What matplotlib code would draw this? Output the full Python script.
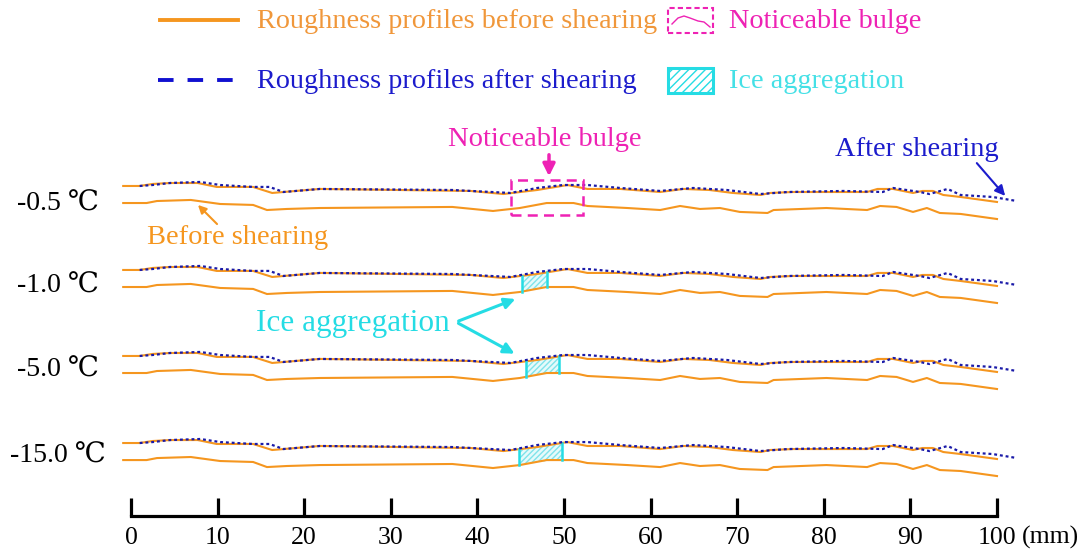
import matplotlib
matplotlib.use("Agg")
import matplotlib.pyplot as plt
import numpy as np
from matplotlib.lines import Line2D
from matplotlib.patches import Rectangle

plt.rcParams['font.family'] = ['Liberation Serif', 'DejaVu Serif']

# Perfiles (x en mm, altura relativa en mm)
before_upper_x = [-0.9, 1.0, 2.5, 4.5, 7.7, 9.9, 14.1, 16.3, 17.6, 21.8, 39.2, 43.0, 46.9,
                  50.4, 52.7, 56.5, 61.1, 63.8, 66.8, 69.5, 72.7, 73.8, 76.4, 82.3, 85.0,
                  86.2, 88.0, 90.3, 91.4, 92.6, 93.8, 95.8, 100.0]
before_upper_h = [0, 0, 0.23, 0.34, 0.34, -0.11, -0.11, -0.80, -0.69, -0.34, -0.57, -0.92,
                  -0.46, 0.11, -0.34, -0.34, -0.69, -0.34, -0.46, -0.80, -1.03, -0.80, -0.69,
                  -0.69, -0.69, -0.34, -0.34, -0.80, -0.57, -0.57, -1.03, -1.26, -1.83]

before_lower_x = [-0.9, 1.8, 3.0, 6.9, 10.3, 14.1, 15.7, 18.0, 21.8, 37.1, 41.8, 44.9, 48.0,
                  51.1, 52.7, 57.3, 61.1, 63.4, 65.7, 68.0, 70.3, 73.5, 74.2, 80.3, 85.0,
                  86.5, 88.4, 90.3, 91.9, 93.4, 95.8, 100.0]
before_lower_h = [-1.95, -1.95, -1.72, -1.60, -2.06, -2.17, -2.75, -2.63, -2.52, -2.40, -2.86,
                  -2.52, -1.95, -1.95, -2.29, -2.52, -2.75, -2.29, -2.63, -2.52, -2.97, -3.09,
                  -2.75, -2.52, -2.75, -2.29, -2.40, -2.97, -2.52, -3.09, -3.20, -3.78]

after_x = [1.0, 2.5, 4.5, 8.0, 10.3, 14.1, 16.0, 17.6, 21.8, 37.1, 43.8, 46.9, 49.9, 52.7,
           56.5, 61.1, 64.9, 68.8, 72.7, 75.8, 82.3, 86.8, 88.0, 91.1, 92.2, 94.3, 95.8,
           99.5, 102.3]
after_h = [0, 0.11, 0.34, 0.46, 0.11, -0.11, -0.11, -0.69, -0.34, -0.46, -0.80, -0.23, 0.11,
           0.11, -0.23, -0.57, -0.23, -0.46, -0.92, -0.69, -0.57, -0.69, -0.23, -0.69, -0.92,
           -0.34, -1.03, -1.26, -1.72]

temperatures = ['-0.5 \u2103', '-1.0 \u2103', '-5.0 \u2103', '-15.0 \u2103']
ice_ranges = [None, (45.2, 48.0), (45.6, 49.4), (44.8, 49.8)]
bulge_range = (43.9, 52.2)
xticks = [0, 10, 20, 30, 40, 50, 60, 70, 80, 90, 100]

ORANGE = '#f5961f'
BLUE = '#1a1aa8'
MAGENTA = '#ee22b4'
CYAN = '#25dce4'

W, H = 1091, 550
fig = plt.figure(figsize=(W / 100, H / 100), dpi=100)


def px(x, y):
    return (x / W, 1 - y / H)


# eje principal: 0-100 mm entre x=131 y x=997 px, linea base en y=516 px
ax = fig.add_axes([131 / W, (H - 516) / H, 866 / W, 516 / H])
ax.set_xlim(0, 100)
ax.set_ylim(0, 516 / 8.74)
for s in ['top', 'left', 'right']:
    ax.spines[s].set_visible(False)
ax.spines['bottom'].set_linewidth(2.3)
ax.set_yticks([])
ax.set_xticks(xticks)
ax.tick_params(axis='x', direction='in', length=13, width=2.3, pad=8, labelsize=18.5)

bases = [37.76, 28.15, 18.31, 8.35]
y_lab = [204, 286, 370, 456]

for i, base in enumerate(bases):
    up = [base + h for h in before_upper_h]
    lo = [base + h for h in before_lower_h]
    af = [base + h for h in after_h]
    ax.plot(before_upper_x, up, color=ORANGE, lw=1.5, clip_on=False, zorder=2)
    ax.plot(before_lower_x, lo, color=ORANGE, lw=1.5, clip_on=False, zorder=2)
    ax.plot(after_x, af, color=BLUE, lw=1.6, ls=(0, (1.3, 1.3)), clip_on=False, zorder=3)

    if ice_ranges[i] is not None:
        x0, x1 = ice_ranges[i]
        xs = [x for x in before_upper_x if x0 < x < x1]
        xx = [x0] + xs + [x1]
        top = np.interp(xx, before_upper_x, up)
        bot = np.interp(xx, before_lower_x, lo)
        ax.fill_between(xx, bot, top, facecolor='#e6fafb', edgecolor='#7fe3ea',
                        hatch='//////', lw=0, zorder=1)
        ax.plot([x0, x0], [bot[0], top[0]], color=CYAN, lw=1.8, zorder=2)
        ax.plot([x1, x1], [bot[-1], top[-1]], color=CYAN, lw=1.8, zorder=2)

    fig.text(*px(58, y_lab[i]), temperatures[i], fontsize=20, ha='center', va='center')

# recuadro de la protuberancia
b0, b1 = bulge_range
ax.add_patch(Rectangle((b0, bases[0] - 3.32), b1 - b0, 4.01, fill=False,
                       edgecolor=MAGENTA, lw=1.8, ls=(0, (4, 2.5)), zorder=4,
                       clip_on=False))

fig.text(*px(1022, 537), '(mm)', fontsize=18.5, ha='left', va='center')

# anotaciones
fig.text(*px(545, 139), 'Noticeable bulge', color=MAGENTA, fontsize=20.5, ha='center', va='center')
ax.annotate('', xy=px(549, 179), xytext=px(549, 152), xycoords='figure fraction',
            textcoords='figure fraction',
            arrowprops=dict(arrowstyle='-|>', color=MAGENTA, lw=2.5, mutation_scale=18))

fig.text(*px(917, 149), 'After shearing', color='#1c1ccc', fontsize=20.5, ha='center', va='center')
ax.annotate('', xy=px(1007, 198), xytext=px(975, 161), xycoords='figure fraction',
            textcoords='figure fraction',
            arrowprops=dict(arrowstyle='-|>', color='#1c1ccc', lw=1.5, mutation_scale=15))

fig.text(*px(238, 238), 'Before shearing', color=ORANGE, fontsize=20.5, ha='center', va='center')
ax.annotate('', xy=px(196, 203), xytext=px(219, 226), xycoords='figure fraction',
            textcoords='figure fraction',
            arrowprops=dict(arrowstyle='-|>', color=ORANGE, lw=1.5, mutation_scale=12))

fig.text(*px(353, 324), 'Ice aggregation', color=CYAN, fontsize=22.5, ha='center', va='center')
for tip in [(518, 298), (517, 355)]:
    ax.annotate('', xy=px(*tip), xytext=px(456, 322), xycoords='figure fraction',
                textcoords='figure fraction',
                arrowprops=dict(arrowstyle='-|>', color=CYAN, lw=2.2, mutation_scale=16))

# leyenda dibujada a mano
fig.add_artist(Line2D([160 / W, 238 / W], [1 - 20 / H] * 2, color=ORANGE, lw=2.8))
fig.add_artist(Line2D([158 / W, 238 / W], [1 - 80 / H] * 2, color='#1010d0', lw=2.8,
                      dashes=(4.0, 3.6)))
fig.text(*px(257, 22), 'Roughness profiles before shearing', color='#f0973a', fontsize=20.3,
         ha='left', va='center')
fig.text(*px(257, 82), 'Roughness profiles after shearing', color='#1c1ccc', fontsize=20.3,
         ha='left', va='center')

fig.add_artist(Rectangle(px(668, 33), 45 / W, 25 / H, fill=False, edgecolor=MAGENTA,
                         lw=1.5, ls=(0, (2.5, 1.5)), transform=fig.transFigure))
wave_x = [672, 678, 684, 690, 698, 704, 710]
wave_y = [24, 18, 16, 18, 21, 22, 27]
fig.add_artist(Line2D([x / W for x in wave_x], [1 - y / H for y in wave_y], color=MAGENTA,
                      lw=1.0))
fig.add_artist(Rectangle(px(668, 93), 45 / W, 25 / H, facecolor='white', edgecolor=CYAN,
                         lw=2.2, hatch='////', transform=fig.transFigure))
fig.text(*px(729, 22), 'Noticeable bulge', color=MAGENTA, fontsize=20.3, ha='left', va='center')
fig.text(*px(729, 82), 'Ice aggregation', color='#44e0e6', fontsize=20.3, ha='left', va='center')

fig.savefig('out.png', dpi=100, facecolor='white')
